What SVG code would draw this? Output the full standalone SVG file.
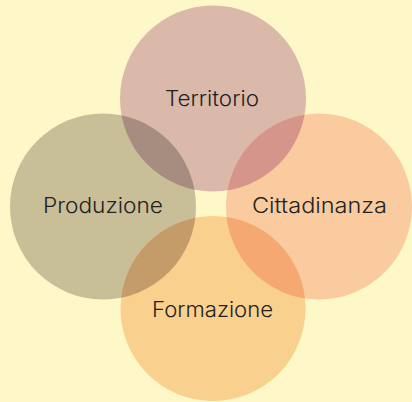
<svg xmlns="http://www.w3.org/2000/svg" width="412" height="402" viewBox="0 0 412 402">
<style>
.lbl{font-family:Inter,"Liberation Sans",sans-serif;font-weight:300;font-size:21px;fill:#222;text-anchor:middle}
</style>
<defs>
<clipPath id="cT"><circle cx="213" cy="98.5" r="93"/></clipPath>
<clipPath id="cF"><circle cx="213" cy="308.5" r="92.5"/></clipPath>
</defs>
<rect width="412" height="402" fill="#FEF8C8"/>
<g id="territorio"><circle cx="213" cy="98.5" r="93" fill="#DAB9AB"/></g>
<g id="produzione"><circle cx="103" cy="206.5" r="93" fill="#C8BE98"/></g>
<g id="cittadinanza"><circle cx="319" cy="206.5" r="93" fill="#FACB9F"/></g>
<g id="formazione"><circle cx="213" cy="308.5" r="92.5" fill="#FAD08E"/></g>
<g id="overlaps">
<circle cx="103" cy="206.5" r="93" fill="#A78C80" clip-path="url(#cT)"/>
<circle cx="319" cy="206.5" r="93" fill="#D6958A" clip-path="url(#cT)"/>
<circle cx="103" cy="206.5" r="93" fill="#C39C6A" clip-path="url(#cF)"/>
<circle cx="319" cy="206.5" r="93" fill="#F5A872" clip-path="url(#cF)"/>
</g>
<g id="labels">
<text class="lbl" x="212" y="106" textLength="94" lengthAdjust="spacingAndGlyphs">Territorio</text>
<text class="lbl" x="103" y="213" textLength="120" lengthAdjust="spacingAndGlyphs">Produzione</text>
<text class="lbl" x="319.5" y="213" textLength="135" lengthAdjust="spacingAndGlyphs">Cittadinanza</text>
<text class="lbl" x="212.5" y="317" textLength="121" lengthAdjust="spacingAndGlyphs">Formazione</text>
</g>
</svg>
